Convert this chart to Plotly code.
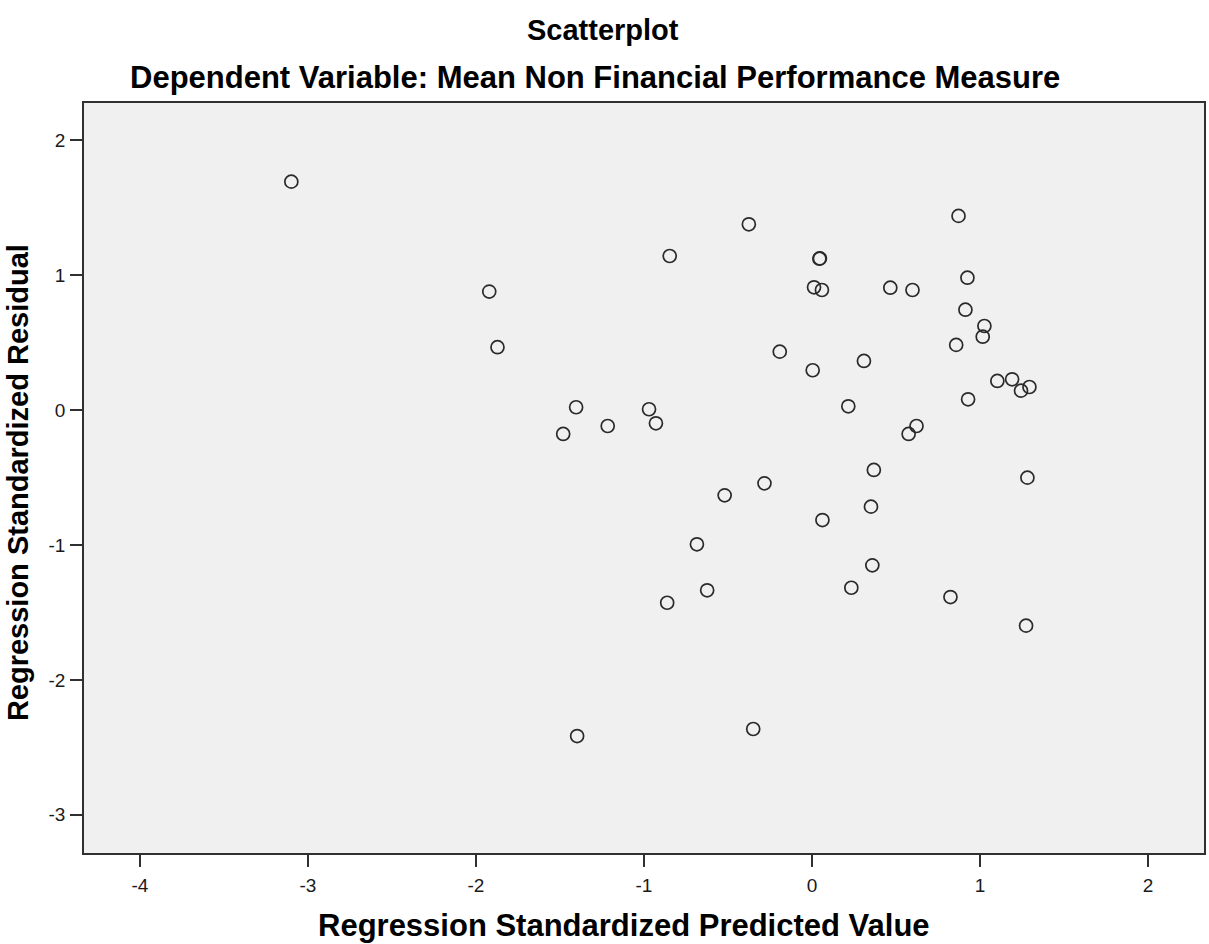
import plotly.graph_objects as go

# Regression standardized predicted values (x) and standardized residuals (y)
predicted = [
    -3.099, -1.921, -1.872, -1.481, -1.404, -1.216, -0.970, -0.929,
    -0.520, -0.283, -0.685, -0.624, -0.862, -1.398, -0.350, -0.376,
    0.872, 0.044, 0.047, 0.012, 0.059, 0.466, 0.598, 0.925,
    0.913, 1.026, 1.016, 0.858, -0.192, 0.004, 0.309, 0.216,
    0.929, 0.622, 0.575, -0.847, 1.103, 1.191, 1.244, 1.294,
    0.368, 0.351, 1.282, 0.062, 0.359, 0.234, 0.824, 1.274,
]
residual = [
    1.693, 0.878, 0.466, -0.177, 0.021, -0.118, 0.006, -0.098,
    -0.632, -0.543, -0.995, -1.336, -1.428, -2.416, -2.364, 1.377,
    1.439, 1.122, 1.124, 0.910, 0.890, 0.907, 0.890, 0.981,
    0.744, 0.623, 0.544, 0.483, 0.433, 0.295, 0.364, 0.028,
    0.080, -0.118, -0.177, 1.142, 0.216, 0.228, 0.144, 0.171,
    -0.444, -0.716, -0.501, -0.815, -1.151, -1.317, -1.386, -1.598,
]

x_ticks = [-4, -3, -2, -1, 0, 1, 2]
y_ticks = [-3, -2, -1, 0, 1, 2]

W, H = 1209, 944
L, R, T, B = 84, 3, 103, 91
pw, ph = W - L - R, H - T - B


def px_x(p):
    return (p - L) / pw


def px_y(p):
    return (H - B - p) / ph


font_family = "Liberation Sans, Arial, sans-serif"

fig = go.Figure(
    go.Scatter(
        x=predicted,
        y=residual,
        mode="markers",
        marker=dict(
            symbol="circle-open",
            size=13,
            color="#2a2a2a",
            line=dict(width=1.7, color="#2a2a2a"),
        ),
        hoverinfo="x+y",
    )
)

axis_common = dict(
    showgrid=False,
    zeroline=False,
    showline=True,
    mirror=True,
    linecolor="#303030",
    linewidth=1.6,
    ticks="outside",
    ticklen=12,
    tickwidth=1.6,
    tickcolor="#303030",
    tickfont=dict(family=font_family, size=19, color="#1a1a1a"),
)

fig.update_xaxes(
    range=[-4.333, 2.333],
    tickvals=x_ticks,
    ticktext=[str(v) for v in x_ticks],
    ticklabelstandoff=2,
    **axis_common,
)
fig.update_yaxes(
    range=[-3.283, 2.276],
    tickvals=y_ticks,
    ticktext=[str(v) for v in y_ticks],
    ticklabelstandoff=1,
    **axis_common,
)


def title_font(size):
    return dict(family=font_family, size=size, color="#000000")


annotations = [
    dict(text="<b>Scatterplot</b>", x=px_x(604), y=px_y(30), font=title_font(29)),
    dict(text="<b>Dependent Variable: Mean Non Financial Performance Measure</b>",
         x=px_x(596), y=px_y(77), font=title_font(31)),
    dict(text="<b>Regression Standardized Predicted Value</b>", x=px_x(625), y=px_y(925),
         font=title_font(31)),
    dict(text="<b>Regression Standardized Residual</b>", x=px_x(18), y=px_y(483),
         textangle=-90, font=title_font(29)),
]
for a in annotations:
    a.update(xref="paper", yref="paper", xanchor="center", yanchor="middle",
             showarrow=False)

fig.update_layout(
    width=W,
    height=H,
    margin=dict(l=L, r=R, t=T, b=B),
    paper_bgcolor="#ffffff",
    plot_bgcolor="#f0f0f0",
    showlegend=False,
    annotations=annotations,
)

fig.write_html("out.html")
